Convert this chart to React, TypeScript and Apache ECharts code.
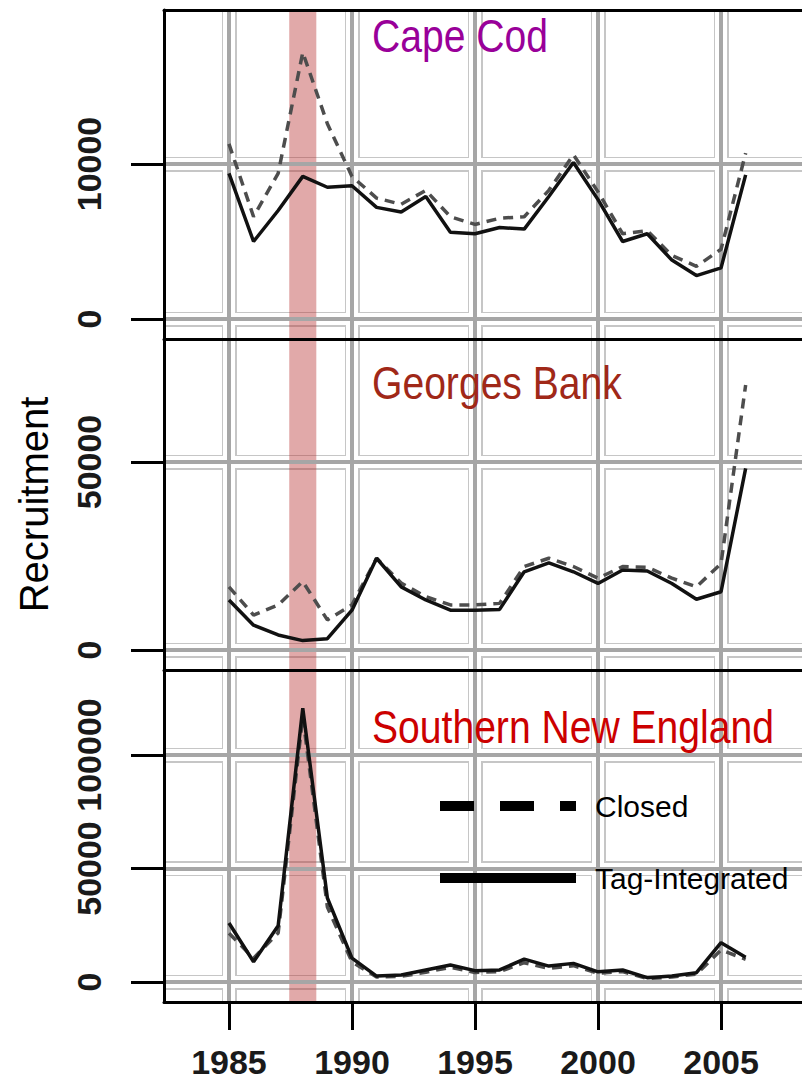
import React, { useEffect, useRef } from "react";
import * as echarts from "echarts";

// ---------- data ----------
const years = [1985, 1986, 1987, 1988, 1989, 1990, 1991, 1992, 1993, 1994, 1995, 1996, 1997, 1998, 1999, 2000, 2001, 2002, 2003, 2004, 2005, 2006];

const capeCodClosed = [11300, 6600, 9400, 17200, 12600, 9200, 7800, 7400, 8300, 6600, 6100, 6500, 6600, 8300, 10600, 8200, 5500, 5700, 4100, 3400, 4500, 10700];
const capeCodTag = [9400, 5000, 7000, 9200, 8500, 8600, 7200, 6900, 7900, 5600, 5500, 5900, 5800, 7900, 10100, 7700, 5000, 5500, 3800, 2800, 3300, 9300];

const georgesClosed = [16800, 9300, 12000, 18200, 8000, 12000, 24400, 17800, 14200, 12000, 12000, 12400, 22200, 24400, 22200, 19100, 22200, 22000, 19100, 16800, 23000, 70500];
const georgesTag = [13300, 6600, 4000, 2500, 3000, 10600, 24400, 16800, 13300, 10600, 10600, 10800, 20800, 23200, 20800, 17700, 21300, 21000, 17700, 13500, 15500, 48300];

const sneClosed = [21500, 10500, 21600, 116900, 33000, 8900, 2200, 2500, 4300, 6500, 4200, 4600, 8500, 6000, 7200, 3800, 4600, 1500, 2200, 3500, 14100, 10000];
const sneTag = [26000, 8900, 24800, 120600, 37000, 10500, 2600, 3100, 5300, 7500, 5000, 5300, 10100, 7000, 8200, 4500, 5300, 1900, 2600, 4100, 17300, 10900];

const xTicks = [1985, 1990, 1995, 2000, 2005];
const capeTicks = [0, 10000];
const georgesTicks = [0, 50000];
const sneTicks = [0, 50000, 100000];

const panelNames = ["Cape Cod", "Georges Bank", "Southern New England"];
const seriesNames = ["Closed", "Tag-Integrated"];
const closureBand = [1987.45, 1988.55];
const yTitle = "Recruitment";

// ---------- layout / style ----------
const FONT = "'Liberation Sans', Arial, sans-serif";
const X_MIN = 1982.36;
const X_MAX = 2008.29;

const panels = [
  { name: panelNames[0], color: "#990099", closed: capeCodClosed, tag: capeCodTag, ticks: capeTicks, min: -1290, max: 19935, top: 10, height: 329, titleY: 36 },
  { name: panelNames[1], color: "#a02818", closed: georgesClosed, tag: georgesTag, ticks: georgesTicks, min: -5319, max: 82713, top: 339, height: 331, titleY: 383 },
  { name: panelNames[2], color: "#cc0000", closed: sneClosed, tag: sneTag, ticks: sneTicks, min: -8811, max: 137445, top: 670, height: 332, titleY: 727 },
];

// decorative layers of the grid lines: wide light halo, white inner, then gray core on the main axes
const gridLayers = [
  { color: "#c6c6c6", width: 15, z: 0 },
  { color: "#ffffff", width: 12, z: 1 },
];

export default function App() {
  const ref = useRef<HTMLDivElement>(null);

  useEffect(() => {
    document.body.style.margin = "0";
    if (!ref.current) return;
    const chart = echarts.init(ref.current, null, { renderer: "svg" });

    const grids: any[] = [];
    const xAxes: any[] = [];
    const yAxes: any[] = [];
    const series: any[] = [];
    const graphics: any[] = [];
    const hidden = { show: false };

    panels.forEach((p, i) => {
      const last = i === panels.length - 1;
      const gridBox = { left: 164, top: p.top, right: 0, height: p.height };

      // decorative grid layers, each in its own grid
      gridLayers.forEach((g) => {
        const gi = grids.length;
        grids.push({ ...gridBox });
        xAxes.push({
          type: "value", gridIndex: gi, min: X_MIN, max: X_MAX, z: g.z,
          axisLine: hidden, axisLabel: { show: false, customValues: xTicks },
          axisTick: { show: false, customValues: xTicks },
          splitLine: { show: true, lineStyle: { color: g.color, width: g.width } },
        });
        yAxes.push({
          type: "value", gridIndex: gi, min: p.min, max: p.max, z: g.z,
          axisLine: hidden, axisLabel: { show: false, customValues: p.ticks },
          axisTick: { show: false, customValues: p.ticks },
          splitLine: { show: true, lineStyle: { color: g.color, width: g.width } },
        });
      });

      // main grid
      const gi = grids.length;
      grids.push({ ...gridBox });
      const xi = xAxes.length;
      const yi = yAxes.length;
      xAxes.push({
        type: "value",
        gridIndex: gi,
        position: "bottom",
        min: X_MIN,
        max: X_MAX,
        z: 2,
        axisLine: { show: true, onZero: false, lineStyle: { color: "#000", width: 3 } },
        axisTick: { show: last, length: 28, lineStyle: { color: "#000", width: 3 }, customValues: xTicks },
        axisLabel: {
          show: last,
          customValues: xTicks,
          margin: 43,
          fontSize: 34,
          fontWeight: "bold",
          fontFamily: FONT,
          color: "#1a1a1a",
          formatter: (v: number) => String(v),
        },
        splitLine: { show: true, lineStyle: { color: "#a6a6a6", width: 4 } },
      });
      yAxes.push({
        type: "value",
        gridIndex: gi,
        position: "left",
        min: p.min,
        max: p.max,
        z: 2,
        name: i === 1 ? yTitle : "",
        nameLocation: "middle",
        nameRotate: 90,
        nameGap: 110,
        nameTextStyle: { fontSize: 40, fontFamily: FONT, color: "#000" },
        axisLine: { show: true, onZero: false, lineStyle: { color: "#000", width: 3 } },
        axisTick: { show: true, length: 33, lineStyle: { color: "#000", width: 3 }, customValues: p.ticks },
        axisLabel: {
          customValues: p.ticks,
          rotate: 90,
          margin: 58,
          fontSize: 34,
          fontWeight: "bold",
          fontFamily: FONT,
          color: "#1a1a1a",
          showMaxLabel: true,
          showMinLabel: true,
          formatter: (v: number) => String(v),
        },
        splitLine: { show: true, lineStyle: { color: "#a6a6a6", width: 4 } },
      });

      if (i === 0) {
        // top frame line of the first panel
        const ti = grids.length;
        grids.push({ ...gridBox });
        xAxes.push({
          type: "value", gridIndex: ti, min: X_MIN, max: X_MAX, position: "top", z: 3,
          axisLine: { show: true, onZero: false, lineStyle: { color: "#000", width: 3 } },
          axisTick: hidden, axisLabel: hidden, splitLine: hidden,
        });
        yAxes.push({
          type: "value", gridIndex: ti, min: p.min, max: p.max, z: 3,
          axisLine: hidden, axisTick: hidden, axisLabel: hidden, splitLine: hidden,
        });
      }

      series.push({
        name: seriesNames[0],
        type: "line",
        xAxisIndex: xi,
        yAxisIndex: yi,
        data: years.map((y, k) => [y, p.closed[k]]),
        symbol: "none",
        lineStyle: { color: "#4d4d4d", width: 3.5, type: [10, 7] },
        z: 3,
      });
      series.push({
        name: seriesNames[1],
        type: "line",
        xAxisIndex: xi,
        yAxisIndex: yi,
        data: years.map((y, k) => [y, p.tag[k]]),
        symbol: "none",
        lineStyle: { color: "#111", width: 3.5, type: "solid" },
        z: 4,
      });
      series.push({
        name: "band" + i,
        type: "line",
        xAxisIndex: xi,
        yAxisIndex: yi,
        data: [],
        symbol: "none",
        z: 6,
        markArea: {
          silent: true,
          itemStyle: { color: "rgba(180,40,40,0.4)" },
          data: [[{ xAxis: closureBand[0] }, { xAxis: closureBand[1] }]],
        },
      });
      graphics.push({
        type: "text",
        x: 372,
        y: p.titleY,
        scaleX: 0.85,
        z: 10,
        style: {
          text: p.name,
          fill: p.color,
          fontSize: 46,
          fontFamily: FONT,
          verticalAlign: "middle",
        },
      });
    });

    chart.setOption({
      animation: false,
      backgroundColor: "#fff",
      grid: grids,
      xAxis: xAxes,
      yAxis: yAxes,
      series,
      graphic: graphics,
      legend: {
        orient: "vertical",
        left: 435,
        top: 791,
        padding: 0,
        itemWidth: 136,
        itemHeight: 10,
        itemGap: 42,
        selectedMode: false,
        textStyle: { fontSize: 30, fontFamily: FONT, color: "#000", padding: [0, 0, 0, 14] },
        data: [
          { name: seriesNames[0], itemStyle: { opacity: 0 }, lineStyle: { type: [34, 26], width: 10, color: "#000" } },
          { name: seriesNames[1], itemStyle: { opacity: 0 }, lineStyle: { type: "solid", width: 10, color: "#000" } },
        ],
      },
    });

    return () => chart.dispose();
  }, []);

  return <div ref={ref} style={{ width: 802, height: 1084 }} />;
}
